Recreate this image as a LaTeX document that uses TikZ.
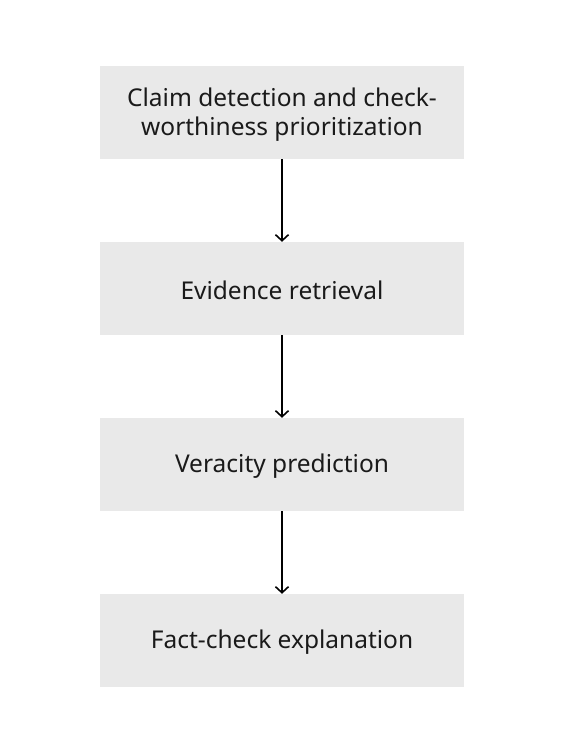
\documentclass[tikz,border=0pt]{standalone}
\usepackage{fontspec}
\setmainfont{Noto Sans}
\usetikzlibrary{arrows.meta}
\definecolor{boxgray}{HTML}{E9E9E9}
\definecolor{ink}{HTML}{1A1A1A}
\begin{document}
\begin{tikzpicture}[x=1pt,y=1pt,
  stage/.style={fill=boxgray,draw=none,minimum width=364pt,minimum height=93pt,
    inner sep=0pt},
  stagetext/.style={inner sep=0pt,align=center,text=ink,font=\fontsize{24.5}{29}\selectfont},
  flow/.style={line width=1.6pt,-{Straight Barb[length=6pt,width=13pt,line width=1.6pt]}}]
\useasboundingbox[fill=white] (0,0) rectangle (562,756);
\node[stage] (a) at (282,643.5) {};
\node[stage] (b) at (282,467.5) {};
\node[stage] (c) at (282,291.5) {};
\node[stage] (d) at (282,115.5) {};
\node[stagetext] (ta) at ([yshift=-2pt]a.center) {Claim detection and check-\\worthiness prioritization};
\node[stagetext] (tb) at ([yshift=-2pt]b.center) {Evidence retrieval};
\node[stagetext] (tc) at ([yshift=-2pt]c.center) {Veracity prediction};
\node[stagetext] (td) at ([yshift=-2pt]d.center) {Fact-check explanation};
\draw[flow] (a.south) -- (b.north);
\draw[flow] (b.south) -- (c.north);
\draw[flow] (c.south) -- (d.north);
\end{tikzpicture}
\end{document}
